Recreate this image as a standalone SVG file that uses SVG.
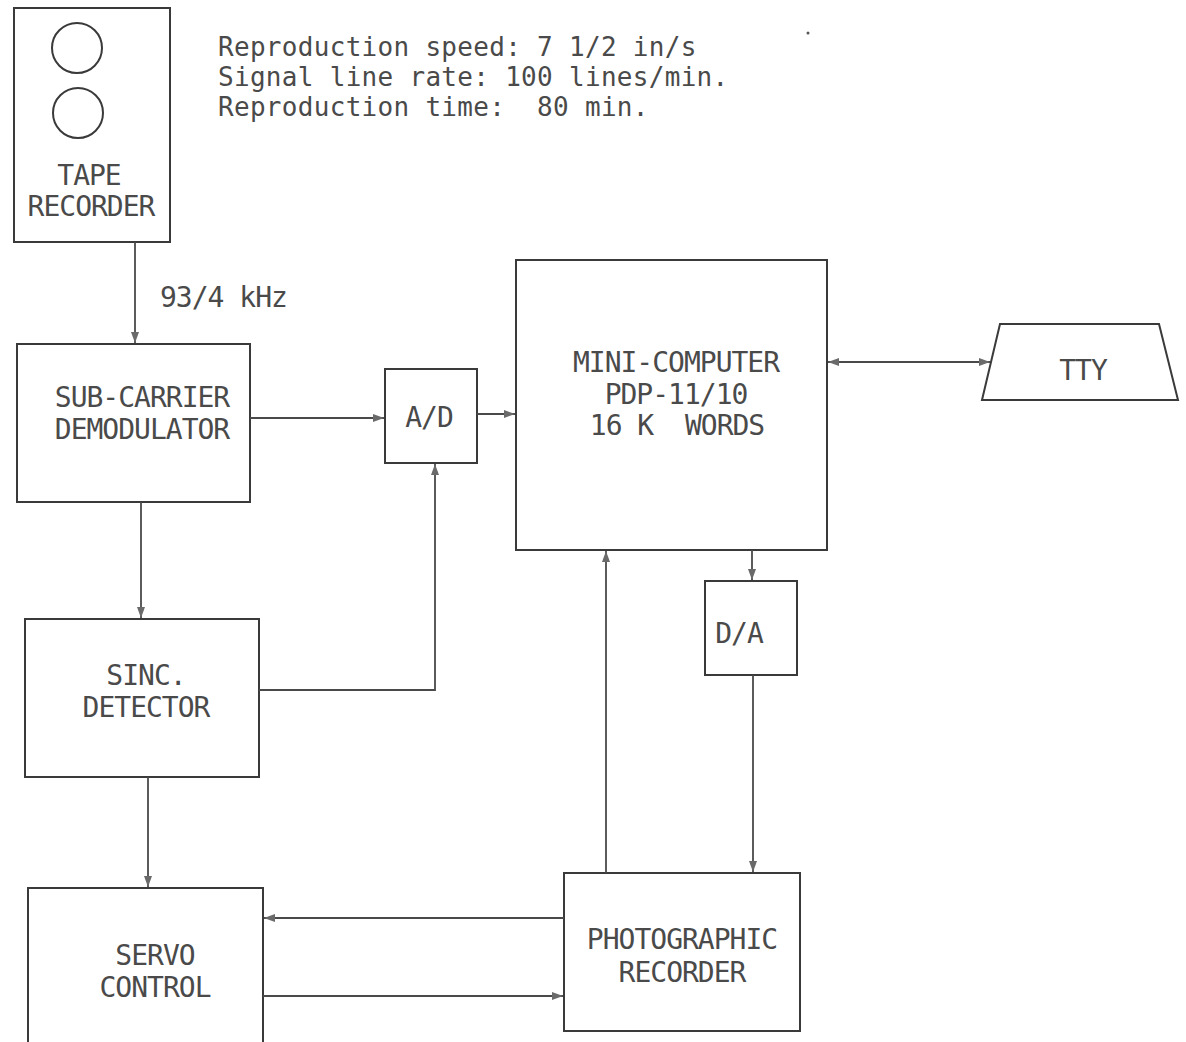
<svg xmlns="http://www.w3.org/2000/svg" width="1186" height="1042" viewBox="0 0 1186 1042">
<style>
.box{fill:none;stroke:#3a3a3a;stroke-width:2}
.ln{fill:none;stroke:#4a4a4a;stroke-width:1.8}
.t{font-family:"DejaVu Sans Mono","Liberation Mono",monospace;font-size:28px;letter-spacing:-1px;fill:#4a4a4a;text-anchor:middle}
.h{font-family:"DejaVu Sans Mono","Liberation Mono",monospace;font-size:26px;letter-spacing:0.3px;fill:#4a4a4a}
</style>
<defs>
<marker id="ar" markerWidth="12" markerHeight="8" refX="11" refY="4" orient="auto-start-reverse" markerUnits="userSpaceOnUse">
<path d="M0,0 L11,4 L0,8 z" fill="#6a6a6a"/>
</marker>
</defs>
<rect width="1186" height="1042" fill="#ffffff"/>
<g id="header">
<text class="h" x="218" y="56" xml:space="preserve">Reproduction speed: 7 1/2 in/s</text>
<text class="h" x="218" y="86" xml:space="preserve">Signal line rate: 100 lines/min.</text>
<text class="h" x="218" y="116" xml:space="preserve">Reproduction time:  80 min.</text>
<circle cx="808" cy="33" r="1.5" fill="#555"/>
</g>
<g id="tape-recorder">
<rect class="box" x="14" y="8" width="156" height="234"/>
<circle class="box" cx="77" cy="48" r="25"/>
<circle class="box" cx="78" cy="113" r="25"/>
<text class="t" x="89" y="185">TAPE</text>
<text class="t" x="91" y="216">RECORDER</text>
</g>
<g id="sub-carrier-demodulator">
<rect class="box" x="17" y="344" width="233" height="158"/>
<text class="t" x="142" y="407">SUB-CARRIER</text>
<text class="t" x="142" y="439">DEMODULATOR</text>
</g>
<g id="ad">
<rect class="box" x="385" y="369" width="92" height="94"/>
<text class="t" x="429" y="427">A/D</text>
</g>
<g id="mini-computer">
<rect class="box" x="516" y="260" width="311" height="290"/>
<text class="t" x="676" y="372">MINI-COMPUTER</text>
<text class="t" x="676" y="404">PDP-11/10</text>
<text class="t" x="677" y="435" xml:space="preserve">16 K  WORDS</text>
</g>
<g id="tty">
<polygon class="box" points="1000,324 1159,324 1178,400 982,400"/>
<text class="t" x="1083" y="380">TTY</text>
</g>
<g id="sinc-detector">
<rect class="box" x="25" y="619" width="234" height="158"/>
<text class="t" x="146" y="685">SINC.</text>
<text class="t" x="146" y="717">DETECTOR</text>
</g>
<g id="da">
<rect class="box" x="705" y="581" width="92" height="94"/>
<text class="t" x="739" y="643">D/A</text>
</g>
<g id="servo-control">
<rect class="box" x="28" y="888" width="235" height="170"/>
<text class="t" x="155" y="965">SERVO</text>
<text class="t" x="155" y="997">CONTROL</text>
</g>
<g id="photographic-recorder">
<rect class="box" x="564" y="873" width="236" height="158"/>
<text class="t" x="682" y="949">PHOTOGRAPHIC</text>
<text class="t" x="682" y="982">RECORDER</text>
</g>
<g id="connectors">
<line class="ln" x1="135" y1="242" x2="135" y2="343" marker-end="url(#ar)"/>
<text class="t" x="160" y="307" style="text-anchor:start">93/4 kHz</text>
<line class="ln" x1="250" y1="418" x2="384" y2="418" marker-end="url(#ar)"/>
<line class="ln" x1="477" y1="414" x2="515" y2="414" marker-end="url(#ar)"/>
<line class="ln" x1="828" y1="362" x2="990" y2="362" marker-start="url(#ar)" marker-end="url(#ar)"/>
<line class="ln" x1="141" y1="502" x2="141" y2="618" marker-end="url(#ar)"/>
<polyline class="ln" points="259,690 435,690 435,464" marker-end="url(#ar)"/>
<line class="ln" x1="148" y1="777" x2="148" y2="887" marker-end="url(#ar)"/>
<line class="ln" x1="564" y1="918" x2="264" y2="918" marker-end="url(#ar)"/>
<line class="ln" x1="263" y1="996" x2="563" y2="996" marker-end="url(#ar)"/>
<line class="ln" x1="606" y1="873" x2="606" y2="551" marker-end="url(#ar)"/>
<line class="ln" x1="752" y1="550" x2="752" y2="580" marker-end="url(#ar)"/>
<line class="ln" x1="753" y1="675" x2="753" y2="872" marker-end="url(#ar)"/>
</g>
</svg>
